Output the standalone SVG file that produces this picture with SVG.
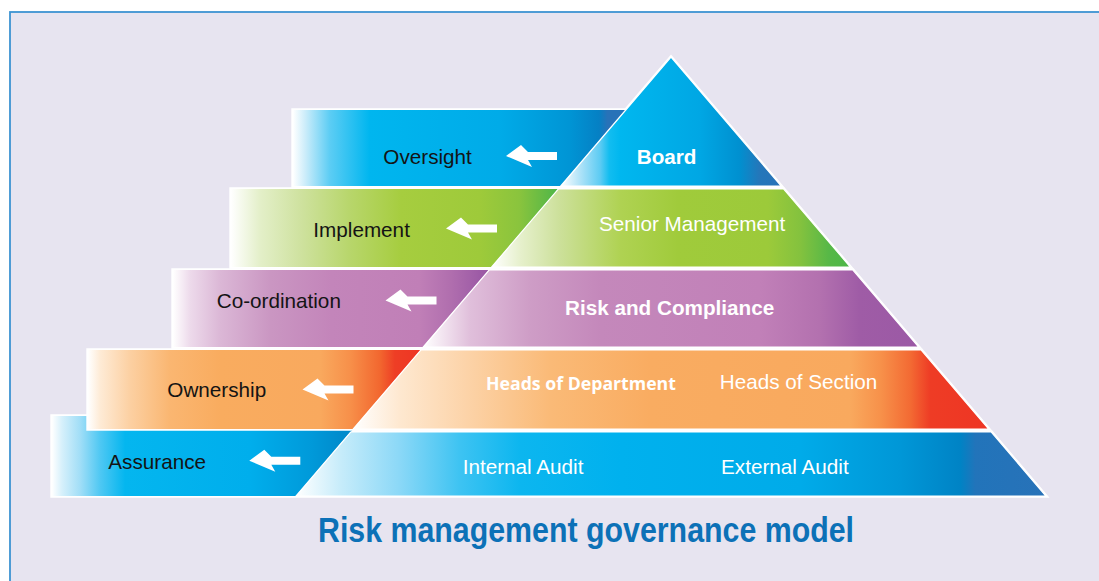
<svg xmlns="http://www.w3.org/2000/svg" xmlns:xlink="http://www.w3.org/1999/xlink" width="1099" height="581" viewBox="0 0 1099 581">
  <style>
    .back { fill: #ffffff; stroke: #ffffff; stroke-width: 3.4; stroke-linejoin: miter; }
    .slice { stroke: #ffffff; stroke-width: 1.2; }
    .lbl { font-family: "Liberation Sans", Arial, sans-serif; font-size: 20.7px; }
    .dark { fill: #141414; }
    .light { fill: #ffffff; }
    .bold { font-weight: bold; }
    .hod { font-family: "Open Sans", "Liberation Sans", sans-serif; font-weight: bold; font-size: 17.7px; fill: #ffffff; }
    .title { font-family: "Liberation Sans Narrow", "Liberation Sans", Arial, sans-serif; font-weight: bold; font-size: 34.4px; fill: #0C71B7; }
    .arrow { fill: #ffffff; }
  </style>
  <defs>
    <!-- Board -->
    <linearGradient id="g1t" gradientUnits="userSpaceOnUse" x1="293" y1="0" x2="625.7" y2="0">
      <stop offset="0" stop-color="#ffffff"/>
      <stop offset="0.036" stop-color="#CDEDFA"/>
      <stop offset="0.11" stop-color="#5DCDF4"/>
      <stop offset="0.23" stop-color="#00B6EF"/>
      <stop offset="0.62" stop-color="#00ABE8"/>
      <stop offset="0.83" stop-color="#0095D5"/>
      <stop offset="0.92" stop-color="#0580C4"/>
      <stop offset="0.945" stop-color="#2872B8"/>
      <stop offset="1" stop-color="#2872B8"/>
    </linearGradient>
    <linearGradient id="g1s" gradientUnits="userSpaceOnUse" x1="560.8" y1="0" x2="781.2" y2="0">
      <stop offset="0" stop-color="#ffffff"/>
      <stop offset="0.087" stop-color="#B0E3F8"/>
      <stop offset="0.18" stop-color="#5BCBF3"/>
      <stop offset="0.22" stop-color="#12BDF0"/>
      <stop offset="0.27" stop-color="#00B7EF"/>
      <stop offset="0.63" stop-color="#00A7E4"/>
      <stop offset="0.81" stop-color="#0090D0"/>
      <stop offset="0.9" stop-color="#2477BA"/>
      <stop offset="1" stop-color="#2872B8"/>
    </linearGradient>
    <!-- Senior Management -->
    <linearGradient id="g2t" gradientUnits="userSpaceOnUse" x1="231" y1="0" x2="558.3" y2="0">
      <stop offset="0" stop-color="#ffffff"/>
      <stop offset="0.09" stop-color="#E3EFC8"/>
      <stop offset="0.21" stop-color="#CFE2A0"/>
      <stop offset="0.36" stop-color="#B8D66C"/>
      <stop offset="0.52" stop-color="#A6CD3F"/>
      <stop offset="0.76" stop-color="#9ECA3A"/>
      <stop offset="0.88" stop-color="#8AC43D"/>
      <stop offset="0.96" stop-color="#62BA45"/>
      <stop offset="1" stop-color="#4DB748"/>
    </linearGradient>
    <linearGradient id="g2s" gradientUnits="userSpaceOnUse" x1="491.7" y1="0" x2="850.3" y2="0">
      <stop offset="0" stop-color="#ffffff"/>
      <stop offset="0.08" stop-color="#E6F0CC"/>
      <stop offset="0.19" stop-color="#CCE09A"/>
      <stop offset="0.36" stop-color="#AFD252"/>
      <stop offset="0.52" stop-color="#A0CB3B"/>
      <stop offset="0.77" stop-color="#9CCA3A"/>
      <stop offset="0.86" stop-color="#84C23E"/>
      <stop offset="0.94" stop-color="#57B847"/>
      <stop offset="1" stop-color="#4CB748"/>
    </linearGradient>
    <!-- Risk and Compliance -->
    <linearGradient id="g3t" gradientUnits="userSpaceOnUse" x1="173" y1="0" x2="489.1" y2="0">
      <stop offset="0" stop-color="#ffffff"/>
      <stop offset="0.054" stop-color="#EDDAEB"/>
      <stop offset="0.15" stop-color="#DBB7D6"/>
      <stop offset="0.31" stop-color="#CA96C2"/>
      <stop offset="0.5" stop-color="#C385BA"/>
      <stop offset="0.78" stop-color="#C07FB7"/>
      <stop offset="0.88" stop-color="#B06EAE"/>
      <stop offset="0.97" stop-color="#9D5BA6"/>
      <stop offset="1" stop-color="#9B59A5"/>
    </linearGradient>
    <linearGradient id="g3s" gradientUnits="userSpaceOnUse" x1="423.3" y1="0" x2="918.7" y2="0">
      <stop offset="0" stop-color="#ffffff"/>
      <stop offset="0.094" stop-color="#E0BFDB"/>
      <stop offset="0.215" stop-color="#CE9DC6"/>
      <stop offset="0.357" stop-color="#C488BB"/>
      <stop offset="0.68" stop-color="#C180B8"/>
      <stop offset="0.8" stop-color="#B371AF"/>
      <stop offset="0.88" stop-color="#9F5CA6"/>
      <stop offset="1" stop-color="#9B59A5"/>
    </linearGradient>
    <!-- Heads of Department / Section -->
    <linearGradient id="g4t" gradientUnits="userSpaceOnUse" x1="88" y1="0" x2="420.8" y2="0">
      <stop offset="0" stop-color="#ffffff"/>
      <stop offset="0.036" stop-color="#FEEBD6"/>
      <stop offset="0.126" stop-color="#FCD0A2"/>
      <stop offset="0.246" stop-color="#FAB671"/>
      <stop offset="0.397" stop-color="#F9AC5F"/>
      <stop offset="0.697" stop-color="#F9A95E"/>
      <stop offset="0.787" stop-color="#F7904A"/>
      <stop offset="0.877" stop-color="#F2672F"/>
      <stop offset="0.922" stop-color="#EE3E25"/>
      <stop offset="1" stop-color="#EE3524"/>
    </linearGradient>
    <linearGradient id="g4s" gradientUnits="userSpaceOnUse" x1="353.3" y1="0" x2="988.7" y2="0">
      <stop offset="0" stop-color="#ffffff"/>
      <stop offset="0.073" stop-color="#FEE8D0"/>
      <stop offset="0.184" stop-color="#FCD2A6"/>
      <stop offset="0.31" stop-color="#FABA77"/>
      <stop offset="0.467" stop-color="#F9AC61"/>
      <stop offset="0.782" stop-color="#F9A95E"/>
      <stop offset="0.83" stop-color="#F7914A"/>
      <stop offset="0.877" stop-color="#F36A33"/>
      <stop offset="0.908" stop-color="#EE3C25"/>
      <stop offset="1" stop-color="#EE3524"/>
    </linearGradient>
    <!-- Audit -->
    <linearGradient id="g5t" gradientUnits="userSpaceOnUse" x1="52" y1="0" x2="364.4" y2="0">
      <stop offset="0" stop-color="#ffffff"/>
      <stop offset="0.032" stop-color="#D6F0FB"/>
      <stop offset="0.09" stop-color="#A1DEF7"/>
      <stop offset="0.154" stop-color="#4FC8F3"/>
      <stop offset="0.234" stop-color="#04B6EF"/>
      <stop offset="0.634" stop-color="#00AEEC"/>
      <stop offset="0.826" stop-color="#009ADA"/>
      <stop offset="0.922" stop-color="#008CCD"/>
      <stop offset="1" stop-color="#0089CB"/>
    </linearGradient>
    <linearGradient id="g5s" gradientUnits="userSpaceOnUse" x1="296.1" y1="0" x2="1045.9" y2="0">
      <stop offset="0" stop-color="#ffffff"/>
      <stop offset="0.059" stop-color="#C7ECFA"/>
      <stop offset="0.138" stop-color="#8BD8F7"/>
      <stop offset="0.219" stop-color="#3DC3F2"/>
      <stop offset="0.299" stop-color="#0CB6EF"/>
      <stop offset="0.433" stop-color="#00B1EE"/>
      <stop offset="0.673" stop-color="#00ABE9"/>
      <stop offset="0.806" stop-color="#0097D7"/>
      <stop offset="0.886" stop-color="#0083C5"/>
      <stop offset="0.906" stop-color="#2274BA"/>
      <stop offset="1" stop-color="#2872B8"/>
    </linearGradient>
    <!-- left-pointing block arrow with a slanted head, tip at the origin -->
    <path id="arr" d="M0,0 L15,-11 L22,-4 L51,-4 L51,4 L22,4 L26,11 Z"/>
  </defs>

  <!-- page and framed panel -->
  <rect x="0" y="0" width="1099" height="581" fill="#ffffff"/>
  <rect x="10" y="12" width="1200" height="700" fill="#E7E4F0" stroke="#3D93D2" stroke-width="1.8"/>

  <!-- bottom tier: audit -->
  <g id="tier-audit">
    <polygon class="back" points="52,416 364.4,416 350.7,432 991.3,432 1045.9,496 52,496"/>
    <polygon fill="url(#g5t)" points="52,416 364.4,416 296.1,496 52,496"/>
    <polygon class="slice" fill="url(#g5s)" points="350.7,432 991.3,432 1045.9,496 296.1,496"/>
    <text class="lbl dark" x="108.3" y="469">Assurance</text>
    <text class="lbl light" x="462.7" y="474">Internal Audit</text>
    <text class="lbl light" x="721" y="473.5">External Audit</text>
  </g>

  <!-- fourth tier: heads -->
  <g id="tier-heads">
    <polygon class="back" points="88,350 921.2,350 988.7,429 88,429"/>
    <polygon fill="url(#g4t)" points="88,350 420.8,350 353.3,429 88,429"/>
    <polygon class="slice" fill="url(#g4s)" points="420.8,350 921.2,350 988.7,429 353.3,429"/>
    <text class="lbl dark" x="167.3" y="397">Ownership</text>
    <text class="hod" x="486" y="390">Heads of Department</text>
    <text class="lbl light" x="719.7" y="389.3">Heads of Section</text>
  </g>

  <!-- third tier: risk and compliance -->
  <g id="tier-risk">
    <polygon class="back" points="173,270 852.9,270 918.7,347 173,347"/>
    <polygon fill="url(#g3t)" points="173,270 489.1,270 423.3,347 173,347"/>
    <polygon class="slice" fill="url(#g3s)" points="489.1,270 852.9,270 918.7,347 423.3,347"/>
    <text class="lbl dark" x="216.7" y="308.3">Co-ordination</text>
    <text class="lbl light bold" x="565" y="315">Risk and Compliance</text>
  </g>

  <!-- second tier: senior management -->
  <g id="tier-senior">
    <polygon class="back" points="231,189 783.7,189 850.3,267 231,267"/>
    <polygon fill="url(#g2t)" points="231,189 558.3,189 491.7,267 231,267"/>
    <polygon class="slice" fill="url(#g2s)" points="558.3,189 783.7,189 850.3,267 491.7,267"/>
    <text class="lbl dark" x="313.3" y="236.7">Implement</text>
    <text class="lbl light" x="599" y="231">Senior Management</text>
  </g>

  <!-- apex: board -->
  <g id="tier-board">
    <polygon class="back" points="293,110 625.7,110 671,57 781.2,186 293,186"/>
    <polygon fill="url(#g1t)" points="293,110 625.7,110 560.8,186 293,186"/>
    <polygon class="slice" fill="url(#g1s)" points="671,57 781.2,186 560.8,186"/>
    <text class="lbl dark" x="383.3" y="164">Oversight</text>
    <text class="lbl light bold" x="636.7" y="164">Board</text>
  </g>

  <!-- arrows from each tier to its role -->
  <g id="connectors" class="arrow">
    <use xlink:href="#arr" x="506" y="156"/>
    <use xlink:href="#arr" x="446" y="228.5"/>
    <use xlink:href="#arr" x="385.5" y="300.5"/>
    <use xlink:href="#arr" x="302.5" y="389.5"/>
    <use xlink:href="#arr" x="249.3" y="460.7"/>
  </g>

  <text id="title" class="title" x="318" y="542" textLength="536" lengthAdjust="spacingAndGlyphs">Risk management governance model</text>
</svg>
